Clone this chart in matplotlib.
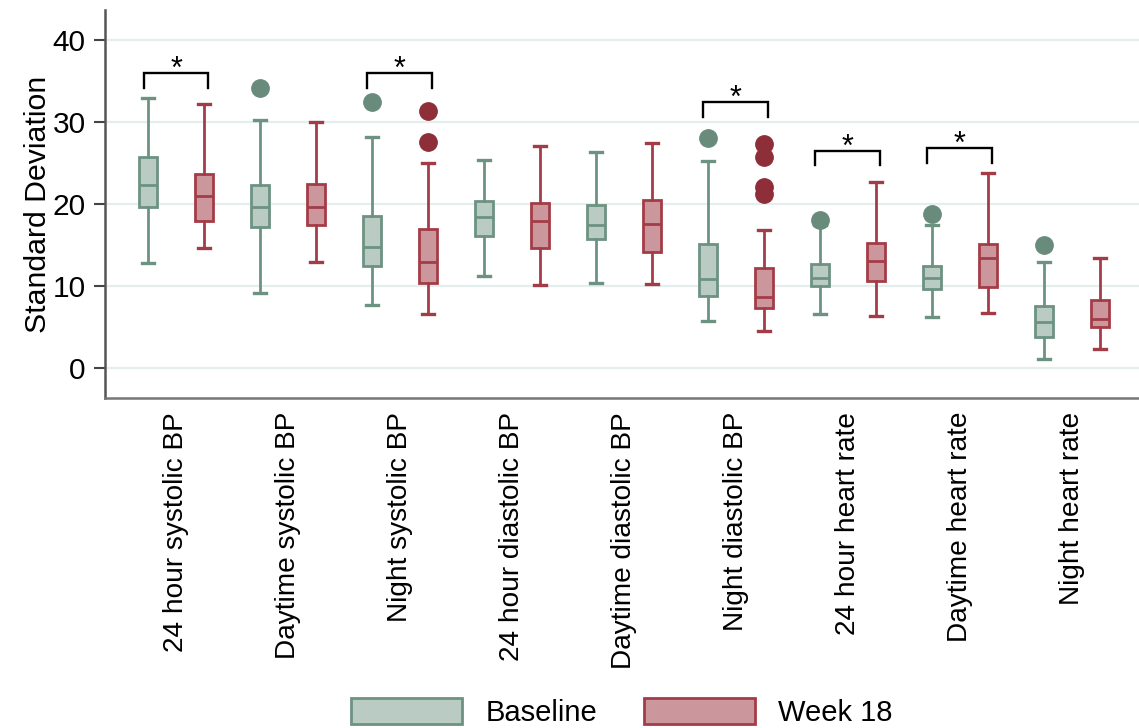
import matplotlib
matplotlib.use('Agg')
import matplotlib.pyplot as plt
from matplotlib.patches import Patch

plt.rcParams['font.family'] = ['Liberation Sans', 'DejaVu Sans']

categories = ['24 hour systolic BP', 'Daytime systolic BP', 'Night systolic BP',
              '24 hour diastolic BP', 'Daytime diastolic BP', 'Night diastolic BP',
              '24 hour heart rate', 'Daytime heart rate', 'Night heart rate']

# [whislo, q1, median, q3, whishi]
baseline_stats = [
    [12.8, 19.7, 22.3, 25.7, 32.9],
    [9.2, 17.2, 19.6, 22.3, 30.3],
    [7.7, 12.5, 14.8, 18.6, 28.2],
    [11.2, 16.1, 18.4, 20.4, 25.4],
    [10.4, 15.8, 17.4, 19.9, 26.3],
    [5.8, 8.8, 10.9, 15.2, 25.2],
    [6.6, 10.0, 11.0, 12.7, 17.5],
    [6.2, 9.7, 11.0, 12.5, 17.4],
    [1.1, 3.8, 5.7, 7.6, 12.9],
]
week18_stats = [
    [14.6, 17.9, 21.0, 23.7, 32.2],
    [12.9, 17.4, 19.7, 22.5, 30.0],
    [6.6, 10.4, 12.9, 17.0, 25.0],
    [10.1, 14.7, 17.9, 20.1, 27.1],
    [10.3, 14.2, 17.6, 20.5, 27.5],
    [4.5, 7.3, 8.7, 12.2, 16.8],
    [6.4, 10.6, 13.1, 15.3, 22.7],
    [6.7, 9.9, 13.4, 15.2, 23.8],
    [2.3, 5.0, 6.0, 8.3, 13.4],
]
baseline_outliers = [[], [34.2], [32.4], [], [], [28.1], [18.1], [18.8], [15.0]]
week18_outliers = [[], [], [31.4, 27.6], [], [], [27.3, 25.8, 22.1, 21.2], [], [], []]

# significance brackets: (category index, bracket top, leg bottom)
sig_groups = [0, 2, 5, 6, 7]
sig_tops = [36.0, 36.0, 32.5, 26.5, 26.8]
sig_legs = [34.2, 34.2, 30.6, 24.8, 25.0]

y_ticks = [0, 10, 20, 30, 40]
series_labels = ['Baseline', 'Week 18']

base_edge = '#6c9282'
base_fill = '#bacbc4'
base_out = '#688b7c'
wk_edge = '#a33c47'
wk_fill = '#cc979c'
wk_out = '#8e2e38'

fig = plt.figure(figsize=(11.39, 7.28), dpi=100)
ax = fig.add_axes([0.0922, 0.4533, 0.9078, 0.5330])

def make_stats(stats, outliers):
    res = []
    for s, o in zip(stats, outliers):
        res.append(dict(whislo=s[0], q1=s[1], med=s[2], q3=s[3], whishi=s[4], fliers=o))
    return res

n = len(categories)
pos = list(range(n))
off = 0.25
bw = 0.16
cw = 0.11

for stats, outl, sign, edge, fill, oc in [
        (baseline_stats, baseline_outliers, -1, base_edge, base_fill, base_out),
        (week18_stats, week18_outliers, 1, wk_edge, wk_fill, wk_out)]:
    ax.bxp(make_stats(stats, outl), positions=[p + sign * off for p in pos],
           widths=bw, capwidths=cw, patch_artist=True, manage_ticks=False,
           boxprops=dict(facecolor=fill, edgecolor=edge, linewidth=2.0),
           medianprops=dict(color=edge, linewidth=2.0),
           whiskerprops=dict(color=edge, linewidth=2.0),
           capprops=dict(color=edge, linewidth=2.4),
           flierprops=dict(marker='o', markersize=12.5, markerfacecolor=oc,
                           markeredgecolor=oc, linestyle='none'),
           zorder=3)

for g, top, leg in zip(sig_groups, sig_tops, sig_legs):
    x0, x1 = g - 0.29, g + 0.29
    ax.plot([x0, x0, x1, x1], [leg, top, top, leg], color='black', lw=1.7,
            solid_joinstyle='miter', zorder=4)
    ax.text(g, top - 0.6, '*', ha='center', va='baseline', fontsize=22, zorder=4)

ax.set_xlim(-0.634, 8.6)
ax.set_ylim(-3.62, 43.66)
ax.set_yticks(y_ticks)
ax.set_yticklabels([str(t) for t in y_ticks])
ax.set_xticks(pos)
ax.set_xticklabels(categories, rotation=90, fontsize=20.2)
ax.tick_params(axis='x', length=0, pad=10)
ax.tick_params(axis='y', length=8, width=1.5, color='#444444', labelsize=21.5, pad=6)
ax.set_ylabel('Standard Deviation', fontsize=21.8, labelpad=0)

ax.grid(axis='y', color='#e4eeee', linewidth=1.6, zorder=0)
ax.set_axisbelow(True)
for s in ['top', 'right']:
    ax.spines[s].set_visible(False)
ax.spines['left'].set_color('#555555')
ax.spines['left'].set_linewidth(1.8)
ax.spines['bottom'].set_color('#777777')
ax.spines['bottom'].set_linewidth(1.8)

handles = [Patch(facecolor=base_fill, edgecolor=base_edge, linewidth=2),
           Patch(facecolor=wk_fill, edgecolor=wk_edge, linewidth=2)]
fig.legend(handles, series_labels, loc='lower center', ncol=2,
           bbox_to_anchor=(0.546, 0.002), frameon=False, fontsize=21,
           handlelength=3.8, handleheight=1.0, handletextpad=0.8,
           columnspacing=1.6, borderaxespad=0, borderpad=0)

fig.savefig('out.png', dpi=100)
